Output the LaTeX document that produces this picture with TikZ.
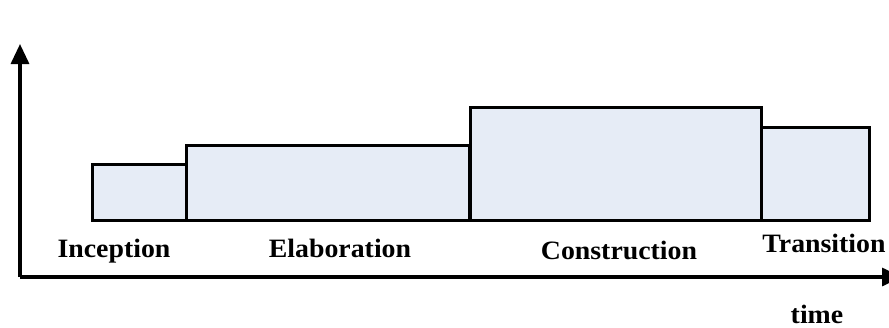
\documentclass[tikz,border=0pt]{standalone}
\usepackage{fontspec}
\setmainfont{Liberation Serif}
\usetikzlibrary{arrows.meta}
\begin{document}
\begin{tikzpicture}[x=1pt,y=-1pt,
  phase/.style={draw=black,line width=3pt,fill=phasefill,inner sep=0pt,outer sep=0pt,anchor=north west},
  lbl/.style={font=\fontsize{26.5}{26.5}\selectfont\bfseries,inner sep=0pt,anchor=base,xscale=1.05,transform shape},
  axis/.style={line width=3.2pt,-{Triangle[length=20pt,width=18pt]}}]
\definecolor{phasefill}{HTML}{E6ECF6}
\useasboundingbox (0,0) rectangle (889,327);
\clip (0,0) rectangle (889,327);
% phase boxes (width x height in px units)
\node[phase,minimum width=94pt,minimum height=56pt] (inc) at (92,164) {};
\node[phase,minimum width=283pt,minimum height=75pt] (ela) at (186,145) {};
\node[phase,minimum width=291pt,minimum height=113pt] (con) at (470,107) {};
\node[phase,minimum width=108pt,minimum height=93pt] (tra) at (761,127) {};
% axes
\coordinate (origin) at (20,277);
\coordinate (ytop) at (20,44);
\coordinate (xend) at (902,277);
\draw[axis] (origin) -- (ytop);
\draw[axis] (origin) -- (xend);
% labels
\node[lbl] (linc) at (114,257) {Inception};
\node[lbl] (lela) at (340,257) {Elaboration};
\node[lbl] (lcon) at (619,259) {Construction};
\node[lbl] (ltra) at (824,252) {Transition};
\node[lbl] (ltime) at (817,323) {time};
\end{tikzpicture}
\end{document}
